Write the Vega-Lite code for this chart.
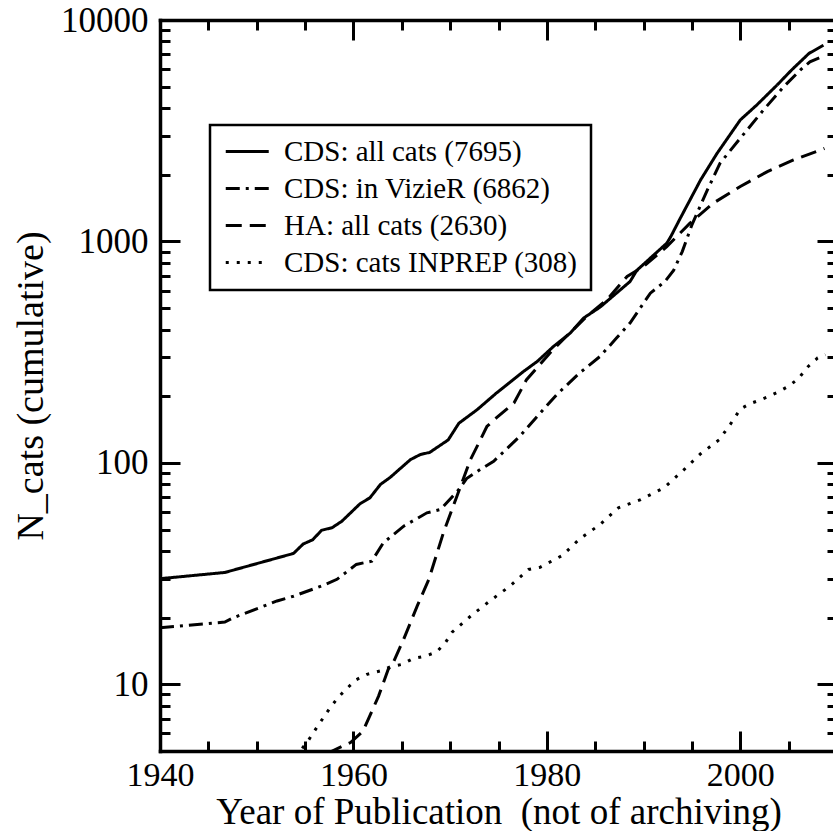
{
  "$schema": "https://vega.github.io/schema/vega-lite/v6.json",
  "width": 677,
  "height": 731,
  "autosize": {"type": "none"},
  "padding": {"left": 160, "top": 20, "right": 0, "bottom": 80},
  "background": "white",
  "config": {
    "view": {"stroke": null},
    "font": "'Liberation Serif', 'Times New Roman', Times, serif",
    "axis": {
      "labelFont": "'Liberation Serif', 'Times New Roman', Times, serif",
      "titleFont": "'Liberation Serif', 'Times New Roman', Times, serif",
      "labelColor": "black",
      "titleColor": "black",
      "domainColor": "black",
      "tickColor": "black",
      "grid": false,
      "titleFontWeight": "normal",
      "labelFlush": false,
      "labelOverlap": false,
      "labelBound": false,
      "domainWidth": 3.5,
      "tickWidth": 3,
      "domainCap": "square"
    },
    "legend": {
      "strokeColor": "black",
      "strokeWidth": 2.5,
      "padding": 12,
      "labelFont": "'Liberation Serif', 'Times New Roman', Times, serif",
      "labelFontSize": 29,
      "labelColor": "black",
      "labelLimit": 0,
      "symbolType": "M-1,0H3",
      "symbolSize": 462,
      "symbolStrokeWidth": 3,
      "symbolStrokeColor": "black",
      "symbolFillColor": "transparent",
      "labelOffset": 33,
      "rowPadding": 7
    }
  },
  "datasets": {
    "d": [
      {"s": "CDS: all cats (7695)", "year": 1940, "n": 30},
      {"s": "CDS: all cats (7695)", "year": 1946.7, "n": 32},
      {"s": "CDS: all cats (7695)", "year": 1953.8, "n": 39},
      {"s": "CDS: all cats (7695)", "year": 1954.8, "n": 43},
      {"s": "CDS: all cats (7695)", "year": 1955.8, "n": 45},
      {"s": "CDS: all cats (7695)", "year": 1956.7, "n": 49.6},
      {"s": "CDS: all cats (7695)", "year": 1957.8, "n": 51},
      {"s": "CDS: all cats (7695)", "year": 1958.8, "n": 54.5},
      {"s": "CDS: all cats (7695)", "year": 1960.7, "n": 65.5},
      {"s": "CDS: all cats (7695)", "year": 1961.7, "n": 69.5},
      {"s": "CDS: all cats (7695)", "year": 1962.8, "n": 80},
      {"s": "CDS: all cats (7695)", "year": 1963.8, "n": 86},
      {"s": "CDS: all cats (7695)", "year": 1965.9, "n": 103.5},
      {"s": "CDS: all cats (7695)", "year": 1966.9, "n": 109},
      {"s": "CDS: all cats (7695)", "year": 1967.9, "n": 111.6},
      {"s": "CDS: all cats (7695)", "year": 1969.8, "n": 127},
      {"s": "CDS: all cats (7695)", "year": 1970.9, "n": 151},
      {"s": "CDS: all cats (7695)", "year": 1972.8, "n": 174},
      {"s": "CDS: all cats (7695)", "year": 1974.8, "n": 207},
      {"s": "CDS: all cats (7695)", "year": 1975.9, "n": 226},
      {"s": "CDS: all cats (7695)", "year": 1977.6, "n": 259},
      {"s": "CDS: all cats (7695)", "year": 1979, "n": 287},
      {"s": "CDS: all cats (7695)", "year": 1980.7, "n": 336},
      {"s": "CDS: all cats (7695)", "year": 1982.4, "n": 385},
      {"s": "CDS: all cats (7695)", "year": 1983.8, "n": 451},
      {"s": "CDS: all cats (7695)", "year": 1985.5, "n": 505},
      {"s": "CDS: all cats (7695)", "year": 1988.6, "n": 659},
      {"s": "CDS: all cats (7695)", "year": 1989.3, "n": 740},
      {"s": "CDS: all cats (7695)", "year": 1992.4, "n": 982},
      {"s": "CDS: all cats (7695)", "year": 1992.8, "n": 1049},
      {"s": "CDS: all cats (7695)", "year": 1993.8, "n": 1274},
      {"s": "CDS: all cats (7695)", "year": 1995.9, "n": 1897},
      {"s": "CDS: all cats (7695)", "year": 1997.6, "n": 2500},
      {"s": "CDS: all cats (7695)", "year": 2000, "n": 3537},
      {"s": "CDS: all cats (7695)", "year": 2001.7, "n": 4130},
      {"s": "CDS: all cats (7695)", "year": 2003.8, "n": 5082},
      {"s": "CDS: all cats (7695)", "year": 2005.3, "n": 5943},
      {"s": "CDS: all cats (7695)", "year": 2007.1, "n": 7063},
      {"s": "CDS: all cats (7695)", "year": 2008.6, "n": 7695},

      {"s": "CDS: in VizieR (6862)", "year": 1940, "n": 18},
      {"s": "CDS: in VizieR (6862)", "year": 1946.7, "n": 19.1},
      {"s": "CDS: in VizieR (6862)", "year": 1947.6, "n": 20},
      {"s": "CDS: in VizieR (6862)", "year": 1952.1, "n": 23.8},
      {"s": "CDS: in VizieR (6862)", "year": 1953.8, "n": 25},
      {"s": "CDS: in VizieR (6862)", "year": 1956.9, "n": 28},
      {"s": "CDS: in VizieR (6862)", "year": 1958.3, "n": 29.8},
      {"s": "CDS: in VizieR (6862)", "year": 1960.3, "n": 34.8},
      {"s": "CDS: in VizieR (6862)", "year": 1961.9, "n": 36},
      {"s": "CDS: in VizieR (6862)", "year": 1963.1, "n": 43.6},
      {"s": "CDS: in VizieR (6862)", "year": 1965.2, "n": 51.8},
      {"s": "CDS: in VizieR (6862)", "year": 1967.6, "n": 59.5},
      {"s": "CDS: in VizieR (6862)", "year": 1969, "n": 61.6},
      {"s": "CDS: in VizieR (6862)", "year": 1970.9, "n": 75.8},
      {"s": "CDS: in VizieR (6862)", "year": 1971.7, "n": 85},
      {"s": "CDS: in VizieR (6862)", "year": 1973.1, "n": 93.3},
      {"s": "CDS: in VizieR (6862)", "year": 1974.5, "n": 101.7},
      {"s": "CDS: in VizieR (6862)", "year": 1977.2, "n": 131.8},
      {"s": "CDS: in VizieR (6862)", "year": 1979, "n": 162},
      {"s": "CDS: in VizieR (6862)", "year": 1981, "n": 203},
      {"s": "CDS: in VizieR (6862)", "year": 1983.4, "n": 255},
      {"s": "CDS: in VizieR (6862)", "year": 1985.5, "n": 302.6},
      {"s": "CDS: in VizieR (6862)", "year": 1987.2, "n": 366},
      {"s": "CDS: in VizieR (6862)", "year": 1988.6, "n": 428},
      {"s": "CDS: in VizieR (6862)", "year": 1990.7, "n": 584},
      {"s": "CDS: in VizieR (6862)", "year": 1992.2, "n": 659},
      {"s": "CDS: in VizieR (6862)", "year": 1993.1, "n": 739},
      {"s": "CDS: in VizieR (6862)", "year": 1994, "n": 900},
      {"s": "CDS: in VizieR (6862)", "year": 1995, "n": 1189},
      {"s": "CDS: in VizieR (6862)", "year": 1996.6, "n": 1709},
      {"s": "CDS: in VizieR (6862)", "year": 1997.9, "n": 2254},
      {"s": "CDS: in VizieR (6862)", "year": 2000, "n": 2924},
      {"s": "CDS: in VizieR (6862)", "year": 2002.4, "n": 3925},
      {"s": "CDS: in VizieR (6862)", "year": 2004.5, "n": 5000},
      {"s": "CDS: in VizieR (6862)", "year": 2006.2, "n": 5943},
      {"s": "CDS: in VizieR (6862)", "year": 2007.2, "n": 6474},
      {"s": "CDS: in VizieR (6862)", "year": 2008.6, "n": 6862},

      {"s": "HA: all cats (2630)", "year": 1955, "n": 4.4},
      {"s": "HA: all cats (2630)", "year": 1957.8, "n": 5.0},
      {"s": "HA: all cats (2630)", "year": 1959.7, "n": 5.46},
      {"s": "HA: all cats (2630)", "year": 1961, "n": 6.16},
      {"s": "HA: all cats (2630)", "year": 1962.6, "n": 8.85},
      {"s": "HA: all cats (2630)", "year": 1963.6, "n": 11.7},
      {"s": "HA: all cats (2630)", "year": 1964.1, "n": 12.5},
      {"s": "HA: all cats (2630)", "year": 1965.2, "n": 16},
      {"s": "HA: all cats (2630)", "year": 1966.6, "n": 22.6},
      {"s": "HA: all cats (2630)", "year": 1967.8, "n": 29.8},
      {"s": "HA: all cats (2630)", "year": 1969.3, "n": 48.3},
      {"s": "HA: all cats (2630)", "year": 1970.7, "n": 70.7},
      {"s": "HA: all cats (2630)", "year": 1972.1, "n": 103.5},
      {"s": "HA: all cats (2630)", "year": 1972.8, "n": 119},
      {"s": "HA: all cats (2630)", "year": 1973.8, "n": 146},
      {"s": "HA: all cats (2630)", "year": 1974.8, "n": 160},
      {"s": "HA: all cats (2630)", "year": 1976.6, "n": 186.5},
      {"s": "HA: all cats (2630)", "year": 1977.9, "n": 237.6},
      {"s": "HA: all cats (2630)", "year": 1980.3, "n": 313},
      {"s": "HA: all cats (2630)", "year": 1982, "n": 372},
      {"s": "HA: all cats (2630)", "year": 1984.1, "n": 458},
      {"s": "HA: all cats (2630)", "year": 1986.2, "n": 545},
      {"s": "HA: all cats (2630)", "year": 1988.3, "n": 695},
      {"s": "HA: all cats (2630)", "year": 1990, "n": 771},
      {"s": "HA: all cats (2630)", "year": 1992.4, "n": 948},
      {"s": "HA: all cats (2630)", "year": 1994.8, "n": 1210},
      {"s": "HA: all cats (2630)", "year": 1997.2, "n": 1489},
      {"s": "HA: all cats (2630)", "year": 2000, "n": 1770},
      {"s": "HA: all cats (2630)", "year": 2002.8, "n": 2067},
      {"s": "HA: all cats (2630)", "year": 2005.5, "n": 2333},
      {"s": "HA: all cats (2630)", "year": 2008.7, "n": 2630},

      {"s": "CDS: cats INPREP (308)", "year": 1954, "n": 4.7},
      {"s": "CDS: cats INPREP (308)", "year": 1955.3, "n": 5.55},
      {"s": "CDS: cats INPREP (308)", "year": 1956.2, "n": 6.38},
      {"s": "CDS: cats INPREP (308)", "year": 1957.6, "n": 7.85},
      {"s": "CDS: cats INPREP (308)", "year": 1958.4, "n": 8.71},
      {"s": "CDS: cats INPREP (308)", "year": 1959.3, "n": 9.56},
      {"s": "CDS: cats INPREP (308)", "year": 1960.3, "n": 10.5},
      {"s": "CDS: cats INPREP (308)", "year": 1961.4, "n": 11.1},
      {"s": "CDS: cats INPREP (308)", "year": 1962.8, "n": 11.5},
      {"s": "CDS: cats INPREP (308)", "year": 1963.8, "n": 12.0},
      {"s": "CDS: cats INPREP (308)", "year": 1965, "n": 12.3},
      {"s": "CDS: cats INPREP (308)", "year": 1966.2, "n": 13.1},
      {"s": "CDS: cats INPREP (308)", "year": 1967.4, "n": 13.4},
      {"s": "CDS: cats INPREP (308)", "year": 1968.6, "n": 14.0},
      {"s": "CDS: cats INPREP (308)", "year": 1969.5, "n": 15.4},
      {"s": "CDS: cats INPREP (308)", "year": 1970.2, "n": 17.2},
      {"s": "CDS: cats INPREP (308)", "year": 1972.1, "n": 20.3},
      {"s": "CDS: cats INPREP (308)", "year": 1974.1, "n": 23.8},
      {"s": "CDS: cats INPREP (308)", "year": 1976.2, "n": 27.8},
      {"s": "CDS: cats INPREP (308)", "year": 1978.1, "n": 33},
      {"s": "CDS: cats INPREP (308)", "year": 1979.3, "n": 33.8},
      {"s": "CDS: cats INPREP (308)", "year": 1981.6, "n": 38.2},
      {"s": "CDS: cats INPREP (308)", "year": 1983.4, "n": 45.4},
      {"s": "CDS: cats INPREP (308)", "year": 1985.5, "n": 52.7},
      {"s": "CDS: cats INPREP (308)", "year": 1987.4, "n": 62.7},
      {"s": "CDS: cats INPREP (308)", "year": 1989.7, "n": 68.3},
      {"s": "CDS: cats INPREP (308)", "year": 1992.1, "n": 77.1},
      {"s": "CDS: cats INPREP (308)", "year": 1994, "n": 91.6},
      {"s": "CDS: cats INPREP (308)", "year": 1995.9, "n": 110},
      {"s": "CDS: cats INPREP (308)", "year": 1997.8, "n": 127},
      {"s": "CDS: cats INPREP (308)", "year": 1999, "n": 150},
      {"s": "CDS: cats INPREP (308)", "year": 2000, "n": 175},
      {"s": "CDS: cats INPREP (308)", "year": 2001, "n": 185},
      {"s": "CDS: cats INPREP (308)", "year": 2002, "n": 192},
      {"s": "CDS: cats INPREP (308)", "year": 2003, "n": 200},
      {"s": "CDS: cats INPREP (308)", "year": 2004, "n": 210},
      {"s": "CDS: cats INPREP (308)", "year": 2005, "n": 222},
      {"s": "CDS: cats INPREP (308)", "year": 2006, "n": 240},
      {"s": "CDS: cats INPREP (308)", "year": 2007, "n": 272},
      {"s": "CDS: cats INPREP (308)", "year": 2008, "n": 298},
      {"s": "CDS: cats INPREP (308)", "year": 2008.8, "n": 308}
    ]
  },
  "data": {"name": "d"},
  "resolve": {"axis": {"x": "independent", "y": "independent"}},
  "layer": [
    {
      "mark": {"type": "point", "opacity": 0, "size": 0},
      "encoding": {
        "x": {"field": "year", "type": "quantitative", "scale": {"domain": [1940, 2010], "nice": false, "zero": false},
          "axis": {"orient": "bottom", "values": [1945, 1950, 1955, 1965, 1970, 1975, 1985, 1990, 1995, 2005], "tickSize": -10, "labels": false, "domain": false, "title": null}},
        "y": {"field": "n", "type": "quantitative", "scale": {"type": "log", "domain": [5, 10000], "nice": false},
          "axis": {"orient": "left", "values": [6, 7, 8, 9, 20, 30, 40, 50, 60, 70, 80, 90, 200, 300, 400, 500, 600, 700, 800, 900, 2000, 3000, 4000, 5000, 6000, 7000, 8000, 9000], "tickSize": -10, "labels": false, "domain": false, "title": null}}
      }
    },
    {
      "mark": {"type": "point", "opacity": 0, "size": 0},
      "encoding": {
        "x": {"field": "year", "type": "quantitative", "scale": {"domain": [1940, 2010], "nice": false, "zero": false},
          "axis": {"orient": "bottom", "values": [1940, 1960, 1980, 2000], "tickSize": -20, "labels": false, "domain": false, "title": null}},
        "y": {"field": "n", "type": "quantitative", "scale": {"type": "log", "domain": [5, 10000], "nice": false},
          "axis": {"orient": "left", "values": [10, 100, 1000, 10000], "tickSize": -20, "labels": false, "domain": false, "title": null}}
      }
    },
    {
      "mark": {"type": "point", "opacity": 0, "size": 0},
      "encoding": {
        "x": {"field": "year", "type": "quantitative", "scale": {"domain": [1940, 2010], "nice": false, "zero": false},
          "axis": {"orient": "top", "values": [1945, 1950, 1955, 1965, 1970, 1975, 1985, 1990, 1995, 2005], "tickSize": -10, "labels": false, "domain": false, "title": null}},
        "y": {"field": "n", "type": "quantitative", "scale": {"type": "log", "domain": [5, 10000], "nice": false},
          "axis": {"orient": "right", "values": [6, 7, 8, 9, 20, 30, 40, 50, 60, 70, 80, 90, 200, 300, 400, 500, 600, 700, 800, 900, 2000, 3000, 4000, 5000, 6000, 7000, 8000, 9000], "tickSize": -10, "labels": false, "domain": false, "title": null}}
      }
    },
    {
      "mark": {"type": "point", "opacity": 0, "size": 0},
      "encoding": {
        "x": {"field": "year", "type": "quantitative", "scale": {"domain": [1940, 2010], "nice": false, "zero": false},
          "axis": {"orient": "top", "values": [1940, 1960, 1980, 2000], "tickSize": -20, "labels": false, "domain": true, "title": null}},
        "y": {"field": "n", "type": "quantitative", "scale": {"type": "log", "domain": [5, 10000], "nice": false},
          "axis": {"orient": "right", "values": [10, 100, 1000, 10000], "tickSize": -20, "labels": false, "domain": true, "title": null}}
      }
    },
    {
      "mark": {"type": "line", "color": "black", "strokeWidth": 3, "clip": true},
      "encoding": {
        "x": {"field": "year", "type": "quantitative", "scale": {"domain": [1940, 2010], "nice": false, "zero": false},
          "axis": {"orient": "bottom", "values": [1940, 1960, 1980, 2000], "format": "d", "ticks": false, "tickSize": 0, "labelFontSize": 34, "labelPadding": 7, "domain": true,
            "title": "Year of Publication\u00a0 (not of archiving)", "titleFontSize": 37, "titlePadding": 2}},
        "y": {"field": "n", "type": "quantitative", "scale": {"type": "log", "domain": [5, 10000], "nice": false},
          "axis": {"orient": "left", "values": [10, 100, 1000, 10000], "format": "d", "ticks": false, "tickSize": 0, "labelFontSize": 35, "labelPadding": 12, "domain": true,
            "title": "N_cats (cumulative)", "titleFontSize": 38, "titlePadding": 10}},
        "strokeDash": {"field": "s", "type": "nominal",
          "scale": {"domain": ["CDS: all cats (7695)", "CDS: in VizieR (6862)", "HA: all cats (2630)", "CDS: cats INPREP (308)"],
                    "range": [[1, 0], [14, 6, 3, 6], [16, 8], [3, 8]]},
          "legend": {"orient": "none", "legendX": 50, "legendY": 105, "title": null}},
        "order": {"field": "year", "type": "quantitative"}
      }
    }
  ]
}
